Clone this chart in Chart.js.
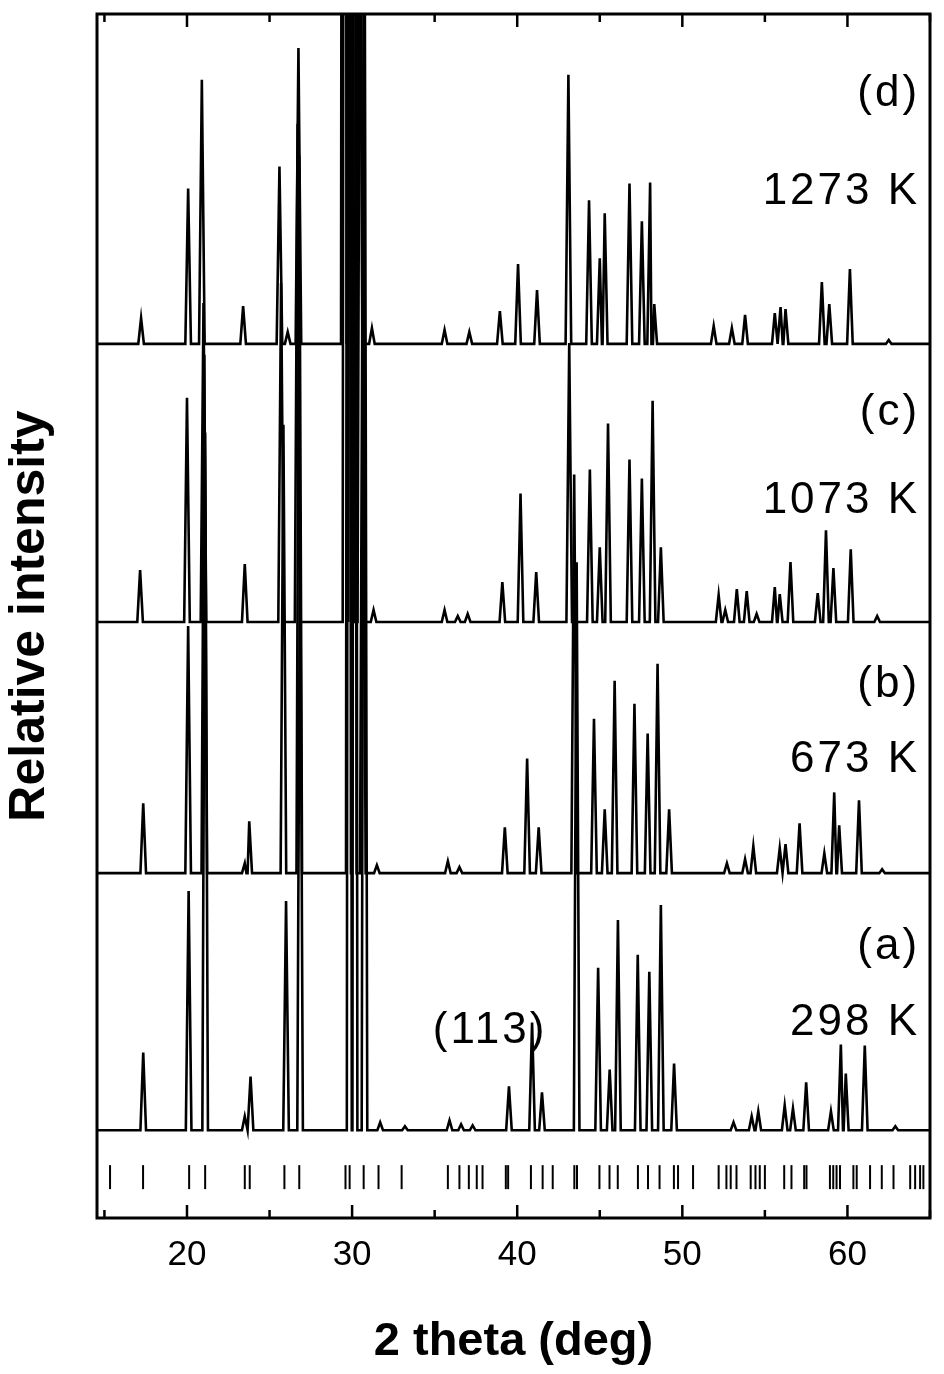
<!DOCTYPE html>
<html>
<head>
<meta charset="utf-8">
<script src="https://cdn.jsdelivr.net/npm/chart.js@4.4.1/dist/chart.umd.min.js"></script>
<style>
  html, body { margin: 0; padding: 0; background: #fff; }
  #wrap { width: 944px; height: 1374px; }
</style>
</head>
<body>
<div id="wrap"><canvas id="myCanvas"></canvas></div>
<script>
// x range (2 theta, deg) and stacked y range (arbitrary offset units)
const xMin = 14.55, xMax = 65;
const yMin = 0, yMax = 1208;

// baselines of the four stacked patterns
const baseA = 88, baseB = 346, baseC = 598, baseD = 877;

// peaks: [2theta, intensity above baseline]
const peaksA = [
  [17.35, 78], [20.1, 240], [21.1, 700], [23.5, 14], [23.85, 54], [26.0, 230], [26.85, 620],
  [29.85, 3000], [30.15, 3000], [30.75, 1300], [31.7, 8], [33.2, 4], [35.9, 10], [36.6, 6], [37.3, 5],
  [39.5, 44], [40.9, 108], [41.5, 38], [43.6, 570], [44.9, 163], [45.6, 61], [46.1, 211],
  [47.3, 176], [48.0, 159], [48.7, 226], [49.5, 67], [53.1, 8], [54.2, 14], [54.6, 19],
  [56.2, 25], [56.7, 22], [57.5, 48], [59.0, 19], [59.6, 86], [59.9, 57], [61.05, 85], [62.9, 4]
];
const peaksB = [
  [17.35, 70], [20.07, 248], [21.05, 520], [23.5, 10], [23.77, 52], [25.84, 450], [26.8, 720],
  [29.8, 3000], [30.1, 3000], [30.65, 700], [31.5, 8], [35.8, 12], [36.5, 6],
  [39.25, 46], [40.6, 115], [41.3, 46], [43.45, 400], [44.65, 155], [45.3, 64], [45.9, 193],
  [47.1, 170], [47.9, 140], [48.5, 210], [49.2, 64], [52.7, 10], [53.8, 14], [54.3, 27],
  [55.9, 25], [56.25, 29], [57.1, 50], [58.6, 20], [59.2, 81], [59.5, 48], [60.7, 73], [62.1, 4]
];
const peaksC = [
  [17.16, 52], [20.0, 225], [21.0, 320], [23.5, 58], [25.7, 340], [26.7, 500],
  [29.6, 3000], [29.95, 3000], [30.5, 900], [31.3, 12], [35.6, 12], [36.4, 6], [37.0, 8],
  [39.1, 40], [40.2, 129], [41.15, 50], [43.15, 280], [44.4, 153], [45.0, 75], [45.5, 199],
  [46.8, 163], [47.55, 144], [48.2, 222], [48.7, 75], [52.2, 27], [52.6, 12], [53.3, 33], [53.9, 31],
  [54.5, 8], [55.6, 35], [55.9, 28], [56.55, 60], [58.2, 29], [58.7, 92], [59.15, 54], [60.2, 73], [61.8, 6]
];
const peaksD = [
  [17.22, 26], [20.07, 156], [20.9, 265], [23.4, 38], [25.6, 178], [26.1, 12], [26.75, 297],
  [29.5, 3000], [29.85, 3000], [30.45, 1000], [31.2, 16], [35.6, 14], [37.1, 12],
  [38.95, 33], [40.05, 80], [41.2, 54], [43.1, 270], [44.35, 144], [45.0, 86], [45.3, 131],
  [46.8, 161], [47.55, 123], [48.05, 162], [48.3, 40], [51.9, 18], [53.0, 16], [53.8, 29],
  [55.6, 31], [55.95, 37], [56.25, 35], [58.45, 62], [58.9, 40], [60.15, 75], [62.5, 4]
];

// reference reflection markers
const refTicks = [
  15.34, 17.34, 20.13, 21.1, 23.5, 23.8, 25.9, 26.8, 29.6, 29.85, 30.7, 31.6, 33.0,
  35.8, 36.5, 37.07, 37.55, 37.9, 39.31, 39.45, 40.83, 41.54, 42.15, 43.46, 43.62, 44.98,
  45.59, 46.09, 47.31, 47.92, 48.62, 49.49, 49.74, 50.65, 52.2, 52.67, 52.93, 53.28, 54.14,
  54.43, 54.69, 55.0, 56.17, 56.61, 57.38, 57.52, 58.94, 59.14, 59.34, 59.55, 60.36, 60.56,
  61.37, 62.08, 62.79, 63.8, 64.1, 64.4, 64.6
];
const refY = 41;

// text labels: [text, 2theta (right edge), y]
const labels = [
  ["(d)", 64.4, 1128], ["1273 K", 64.4, 1030], ["(c)", 64.4, 808], ["1073 K", 64.4, 720],
  ["(b)", 64.4, 535], ["673 K", 64.4, 460], ["(a)", 64.4, 272], ["298 K", 64.4, 196]
];
const label113 = ["(113)", 40.9, 188];

const halfW = 0.17;

function buildPattern(peaks, base) {
  let pts = [{ x: xMin, y: base }];
  peaks.forEach(([p, h]) => {
    pts.push({ x: p - halfW, y: base });
    pts.push({ x: p, y: base + h });
    pts.push({ x: p + halfW, y: base });
  });
  pts.push({ x: xMax, y: base });
  pts.sort((a, b) => a.x - b.x);
  return pts;
}

const lineDs = (data) => ({
  type: "line",
  data: data,
  borderColor: "#000",
  borderWidth: 2.6,
  pointRadius: 0,
  tension: 0,
  fill: false
});

const frame = {
  id: "frame",
  afterDraw(chart) {
    const { ctx, chartArea: a, scales } = chart;
    ctx.save();
    ctx.strokeStyle = "#000";
    ctx.lineWidth = 3;
    ctx.strokeRect(a.left, a.top, a.right - a.left, a.bottom - a.top);
    // inward ticks on bottom and top
    ctx.lineWidth = 2.5;
    for (let v = 15; v <= 65; v += 5) {
      const px = scales.x.getPixelForValue(v);
      const len = v % 10 === 0 ? 13 : 8;
      ctx.beginPath();
      ctx.moveTo(px, a.bottom); ctx.lineTo(px, a.bottom - len);
      ctx.moveTo(px, a.top); ctx.lineTo(px, a.top + len);
      ctx.stroke();
    }
    // text
    ctx.fillStyle = "#000";
    ctx.font = "44px 'Liberation Sans', Arial, sans-serif";
    ctx.textBaseline = "middle";
    ctx.textAlign = "right";
    if ("letterSpacing" in ctx) ctx.letterSpacing = "3px";
    labels.forEach(([t, x, y]) => {
      ctx.fillText(t, scales.x.getPixelForValue(x), scales.y.getPixelForValue(y));
    });
    ctx.textAlign = "center";
    ctx.fillText(label113[0], scales.x.getPixelForValue(label113[1]) - 42, scales.y.getPixelForValue(label113[2]));
    ctx.restore();
  }
};

const ctx = document.getElementById("myCanvas").getContext("2d");

new Chart(ctx, {
  type: "scatter",
  data: {
    datasets: [
      lineDs(buildPattern(peaksA, baseA)),
      lineDs(buildPattern(peaksB, baseB)),
      lineDs(buildPattern(peaksC, baseC)),
      lineDs(buildPattern(peaksD, baseD)),
      {
        type: "scatter",
        data: refTicks.map(v => ({ x: v, y: refY })),
        pointStyle: "line",
        rotation: 90,
        radius: 12,
        borderColor: "#000",
        borderWidth: 2,
        backgroundColor: "#000"
      }
    ]
  },
  options: {
    responsive: true,
    maintainAspectRatio: false,
    animation: false,
    layout: { padding: { top: 10, right: 14, left: 0, bottom: 0 } },
    plugins: { legend: { display: false }, tooltip: { enabled: false } },
    scales: {
      x: {
        type: "linear",
        min: xMin,
        max: xMax,
        afterBuildTicks(s) { s.ticks = [20, 30, 40, 50, 60].map(v => ({ value: v })); },
        grid: { display: false },
        border: { display: false },
        ticks: {
          color: "#000",
          padding: 8,
          font: { size: 35, family: "'Liberation Sans', Arial, sans-serif" }
        },
        title: {
          display: true,
          text: "2 theta (deg)",
          color: "#000",
          padding: { top: 4 },
          font: { size: 47, weight: "bold", family: "'Liberation Sans', Arial, sans-serif" }
        },
        afterFit(s) { s.height = 156; }
      },
      y: {
        min: yMin,
        max: yMax,
        grid: { display: false },
        border: { display: false },
        ticks: { display: false },
        title: {
          display: true,
          text: "Relative intensity",
          color: "#000",
          padding: 0,
          font: { size: 50, weight: "bold", family: "'Liberation Sans', Arial, sans-serif" }
        },
        afterFit(s) { s.width = 97; }
      }
    }
  },
  plugins: [frame]
});
</script>
</body>
</html>
